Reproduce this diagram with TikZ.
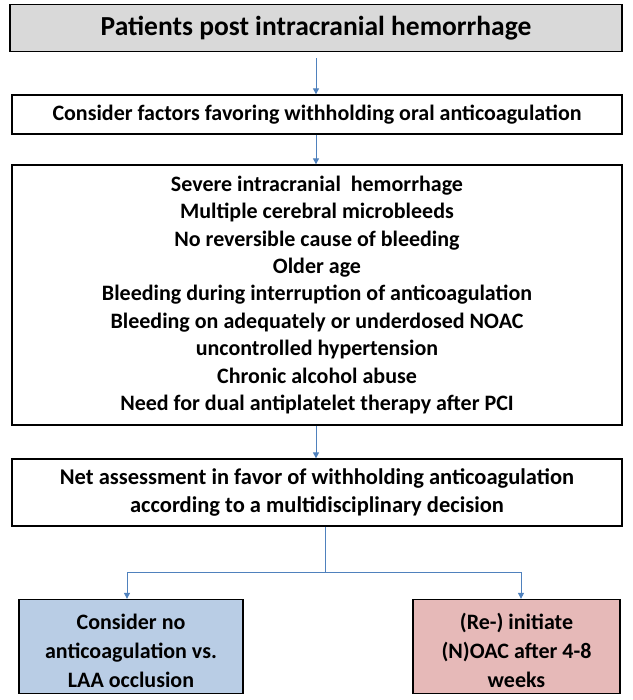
\documentclass[tikz,border=0pt]{standalone}
\usepackage{fontspec}
\setmainfont{Carlito}
\usetikzlibrary{arrows.meta}
\definecolor{arrowblue}{HTML}{4F81BD}
\definecolor{titlegray}{HTML}{D9D9D9}
\definecolor{leftblue}{HTML}{B9CDE5}
\definecolor{rightpink}{HTML}{E6B9B8}
\begin{document}
\begin{tikzpicture}[x=1pt,y=-1pt,
  box/.style={draw=black,line width=1.3pt,inner sep=0pt,align=center,font=\bfseries\fontsize{22}{27.4}\selectfont},
  txt/.style={inner sep=0pt,align=center,font=\bfseries\fontsize{22}{29}\selectfont},
  conn/.style={draw=arrowblue,line width=1pt},
  arr/.style={conn,-{Triangle[length=6pt,width=6pt]}}]
\useasboundingbox (0,0) rectangle (632,700);
\node[box,fill=titlegray,minimum width=612pt,minimum height=47pt,font=\bfseries\fontsize{27.5}{30}\selectfont] (title) at (316,28) {Patients post intracranial hemorrhage};
\node[box,minimum width=610pt,minimum height=39pt] (factors) at (317,114.5) {Consider factors favoring withholding oral anticoagulation};
\node[box,minimum width=610pt,minimum height=260pt] (list) at (317,295) {Severe intracranial\ \ hemorrhage\\Multiple cerebral microbleeds\\No reversible cause of bleeding\\Older age\\Bleeding during interruption of anticoagulation\\Bleeding on adequately or underdosed NOAC\\uncontrolled hypertension\\Chronic alcohol abuse\\Need for dual antiplatelet therapy after PCI};
\node[box,minimum width=610pt,minimum height=67pt,font=\bfseries\fontsize{22.5}{28}\selectfont] (net) at (317,492.5) {Net assessment in favor of withholding anticoagulation\\according to a multidisciplinary decision};
\node[box,fill=leftblue,minimum width=224pt,minimum height=94pt] (left) at (131,646.5) {};
\node[box,fill=rightpink,minimum width=207pt,minimum height=94pt] (right) at (516.5,646.5) {};
\node[txt] (lefttext) at ([yshift=-4pt]left.center) {Consider no\\anticoagulation vs.\\LAA occlusion};
\node[txt] (righttext) at ([yshift=-4pt]right.center) {(Re-) initiate\\(N)OAC after 4-8\\weeks};
\coordinate (split) at (325,572);
\draw[arr] ([yshift=-6pt]title.south) -- (factors.north -| title.south);
\draw[arr] (factors.south -| title.south) -- (list.north -| title.south);
\draw[arr] (list.south -| title.south) -- (net.north -| title.south);
\draw[conn] (net.south -| split) -- (split);
\draw[arr] (split) -| (left.north -| 127,0);
\draw[arr] (split) -| (right.north -| 521,0);
\end{tikzpicture}
\end{document}
